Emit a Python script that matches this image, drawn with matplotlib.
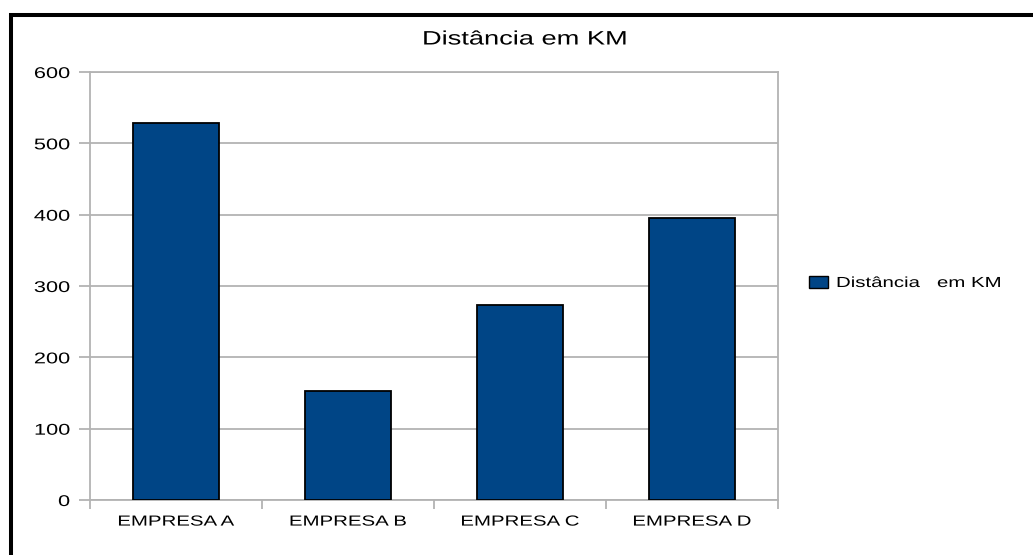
import matplotlib
matplotlib.use("Agg")
import matplotlib.pyplot as plt
from matplotlib.lines import Line2D
from matplotlib.patches import Patch
from matplotlib.patheffects import AbstractPathEffect
from matplotlib.transforms import Affine2D

plt.rcParams['font.family'] = ['Liberation Sans', 'DejaVu Sans']

# Data
categories = ["EMPRESA A", "EMPRESA B", "EMPRESA C", "EMPRESA D"]
distances = [529, 153, 273, 396]
series_name = "Distância   em KM"
chart_title = "Distância em KM"
y_ticks = [0, 100, 200, 300, 400, 500, 600]


class WideText(AbstractPathEffect):
    """Draw text glyphs widened horizontally, keeping the alignment anchor."""

    def __init__(self, sx=1.4, ha="center"):
        super().__init__()
        self.sx = sx
        self.ha = ha

    def draw_path(self, renderer, gc, tpath, affine, rgbFace=None):
        x0 = affine.transform([[0.0, 0.0]])[0, 0]
        if len(tpath.vertices):
            x1 = affine.transform(tpath.vertices)[:, 0].max()
        else:
            x1 = x0
        if self.ha == "left":
            ref = x0
        elif self.ha == "right":
            ref = x1
        else:
            ref = 0.5 * (x0 + x1)
        widen = Affine2D().translate(-ref, 0).scale(self.sx, 1.0).translate(ref, 0)
        renderer.draw_path(gc, tpath, affine + widen, rgbFace)


STRETCH = 1.4

W, H = 1033, 555
fig = plt.figure(figsize=(W / 100, H / 100), dpi=100)
fig.patch.set_facecolor("white")

ax = fig.add_axes([90 / W, 1 - 500 / H, (778 - 90) / W, (500 - 72) / H])

bar_color = "#004586"
grid_color = "#b3b3b3"

x = list(range(len(categories)))
ax.bar(x, distances, width=0.5, color=bar_color, edgecolor="black",
       linewidth=1.3, zorder=3)

ax.set_xlim(-0.5, len(categories) - 0.5)
ax.set_ylim(0, 600)
ax.set_yticks(y_ticks)
ax.set_yticklabels([str(v) for v in y_ticks])

# Category labels centred on bars, tick marks on category boundaries
ax.set_xticks(x)
ax.set_xticklabels(categories)
ax.tick_params(axis="x", which="major", length=0, pad=10.5, labelsize=10.5)
ax.set_xticks([i - 0.5 for i in range(len(categories) + 1)], minor=True)
ax.tick_params(axis="x", which="minor", length=6.5, width=1.3, color=grid_color)
ax.tick_params(axis="y", length=8, width=1.3, color=grid_color, pad=6.5,
               labelsize=11.2)

ax.yaxis.grid(True, color=grid_color, linewidth=1.3, zorder=0)
ax.set_axisbelow(True)
for side in ["left", "right", "bottom", "top"]:
    ax.spines[side].set_color(grid_color)
    ax.spines[side].set_linewidth(1.3)

title = fig.text(525 / W, 1 - 40 / H, chart_title, ha="center", va="center",
                 fontsize=14)
title.set_path_effects([WideText(STRETCH, "center")])

# Legend
handle = Patch(facecolor=bar_color, edgecolor="black", linewidth=1.0)
leg = fig.legend([handle], [series_name], loc="center left",
                 bbox_to_anchor=(809 / W, 1 - 283 / H), frameon=False,
                 fontsize=10.5, handlelength=1.3, handleheight=0.86,
                 handletextpad=0.55, borderpad=0, borderaxespad=0)
for t in leg.get_texts():
    t.set_path_effects([WideText(STRETCH, "left")])

fig.canvas.draw()
for lbl in ax.get_yticklabels():
    lbl.set_path_effects([WideText(STRETCH, "right")])
for lbl in ax.get_xticklabels():
    lbl.set_path_effects([WideText(STRETCH, "center")])

# Outer frame (left and top edges)
fig.add_artist(Line2D([10.5 / W, 10.5 / W], [0, 1 - 12.5 / H],
                      transform=fig.transFigure, color="black",
                      linewidth=2.9, solid_capstyle="butt"))
fig.add_artist(Line2D([8.5 / W, 1], [1 - 14.5 / H, 1 - 14.5 / H],
                      transform=fig.transFigure, color="black",
                      linewidth=2.9, solid_capstyle="butt"))

fig.savefig("out.png", dpi=100, facecolor="white")
